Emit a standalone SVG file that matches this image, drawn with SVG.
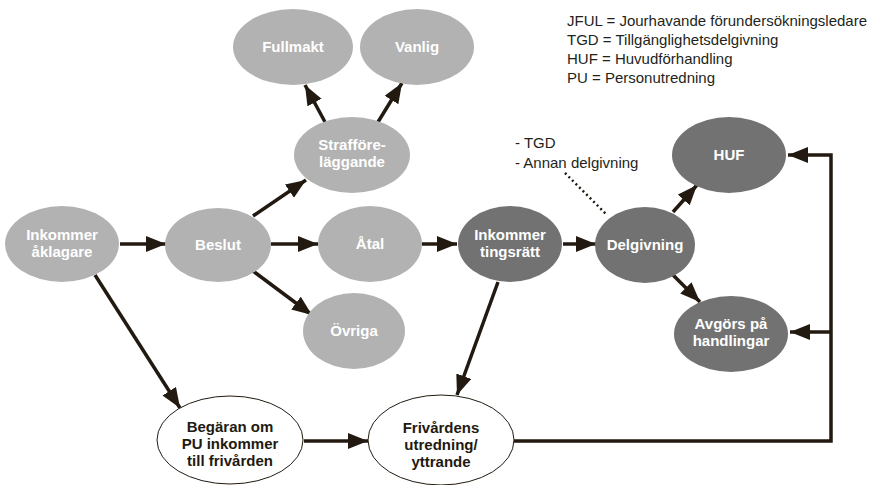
<svg xmlns="http://www.w3.org/2000/svg" width="872" height="485" viewBox="0 0 872 485">
<defs>
<marker id="ah" markerUnits="userSpaceOnUse" markerWidth="22" markerHeight="18" refX="20" refY="8" orient="auto">
<path d="M0,0 L20,8 L0,16 z" fill="#221a10"/>
</marker>
<style>
.lt{fill:#b2b2b2}
.dk{fill:#727272}
.wh{fill:#fff;stroke:#221a10;stroke-width:1}
.tw{font-family:"Liberation Sans",Arial,sans-serif;font-size:15px;font-weight:bold;fill:#fff;text-anchor:middle}
.tb{font-family:"Liberation Sans",Arial,sans-serif;font-size:15px;font-weight:bold;fill:#221a10;text-anchor:middle}
.tn{font-family:"Liberation Sans",Arial,sans-serif;font-size:15px;fill:#231f1a}
.c{stroke:#221a10;stroke-width:3.5;fill:none}
.ca{stroke:#221a10;stroke-width:3.5;fill:none;marker-end:url(#ah)}
</style>
</defs>
<rect width="872" height="485" fill="#fff"/>
<g id="legend">
<text class="tn" x="567" y="26">JFUL = Jourhavande förundersökningsledare</text>
<text class="tn" x="567" y="45">TGD = Tillgänglighetsdelgivning</text>
<text class="tn" x="567" y="64">HUF = Huvudförhandling</text>
<text class="tn" x="567" y="83">PU = Personutredning</text>
</g>
<g id="connectors">
<line class="ca" x1="120" y1="244" x2="166" y2="244"/>
<line class="ca" x1="271" y1="244" x2="318" y2="244"/>
<line class="ca" x1="253" y1="216" x2="306" y2="180"/>
<line class="ca" x1="253" y1="271" x2="312" y2="315"/>
<line class="ca" x1="325" y1="122" x2="305" y2="85"/>
<line class="ca" x1="378" y1="122" x2="402" y2="83"/>
<line class="ca" x1="422" y1="244" x2="457" y2="244"/>
<line class="ca" x1="563" y1="244" x2="596" y2="244"/>
<line class="ca" x1="673" y1="212" x2="697" y2="185"/>
<line class="ca" x1="673" y1="275" x2="700" y2="302"/>
<line class="ca" x1="95" y1="275" x2="180" y2="408"/>
<line class="ca" x1="498" y1="282" x2="457" y2="395"/>
<line class="ca" x1="304" y1="441" x2="368" y2="441"/>
<polyline class="ca" points="513,441 831,441 831,155 788,155"/>
<line class="ca" x1="831" y1="332" x2="790" y2="332"/>
<line x1="565" y1="173" x2="607" y2="215" stroke="#221a10" stroke-width="2.5" stroke-dasharray="2,3"/>
</g>
<g id="note">
<text class="tn" x="515" y="148">- TGD</text>
<text class="tn" x="515" y="168">- Annan delgivning</text>
</g>
<g id="fullmakt"><ellipse class="lt" cx="293" cy="47" rx="60" ry="38"/><text class="tw" x="293" y="52">Fullmakt</text></g>
<g id="vanlig"><ellipse class="lt" cx="417" cy="47" rx="57" ry="38"/><text class="tw" x="417" y="52">Vanlig</text></g>
<g id="strafforelaggande"><ellipse class="lt" cx="352" cy="155" rx="58" ry="38"/><text class="tw" x="352" y="150">Strafföre-</text><text class="tw" x="352" y="167">läggande</text></g>
<g id="inkommer-aklagare"><ellipse class="lt" cx="62" cy="244" rx="57" ry="38"/><text class="tw" x="62" y="240">Inkommer</text><text class="tw" x="62" y="257">åklagare</text></g>
<g id="beslut"><ellipse class="lt" cx="218" cy="245" rx="53" ry="37"/><text class="tw" x="218" y="250">Beslut</text></g>
<g id="atal"><ellipse class="lt" cx="370" cy="244" rx="52" ry="38"/><text class="tw" x="370" y="249">Åtal</text></g>
<g id="ovriga"><ellipse class="lt" cx="354" cy="331" rx="51" ry="38"/><text class="tw" x="354" y="336">Övriga</text></g>
<g id="inkommer-tingsratt"><ellipse class="dk" cx="510" cy="244" rx="52" ry="38"/><text class="tw" x="510" y="240">Inkommer</text><text class="tw" x="510" y="257">tingsrätt</text></g>
<g id="delgivning"><ellipse class="dk" cx="645" cy="245" rx="50" ry="38"/><text class="tw" x="645" y="250">Delgivning</text></g>
<g id="huf"><ellipse class="dk" cx="729" cy="155" rx="57" ry="38"/><text class="tw" x="729" y="160">HUF</text></g>
<g id="avgors"><ellipse class="dk" cx="731" cy="334" rx="57" ry="38"/><text class="tw" x="731" y="329">Avgörs på</text><text class="tw" x="731" y="346">handlingar</text></g>
<g id="begaran"><ellipse class="wh" cx="230" cy="440" rx="73" ry="44"/><text class="tb" x="230" y="432">Begäran om</text><text class="tb" x="230" y="449">PU inkommer</text><text class="tb" x="230" y="466">till frivården</text></g>
<g id="frivarden"><ellipse class="wh" cx="441" cy="440" rx="73" ry="45"/><text class="tb" x="441" y="433">Frivårdens</text><text class="tb" x="441" y="450">utredning/</text><text class="tb" x="441" y="467">yttrande</text></g>
</svg>
